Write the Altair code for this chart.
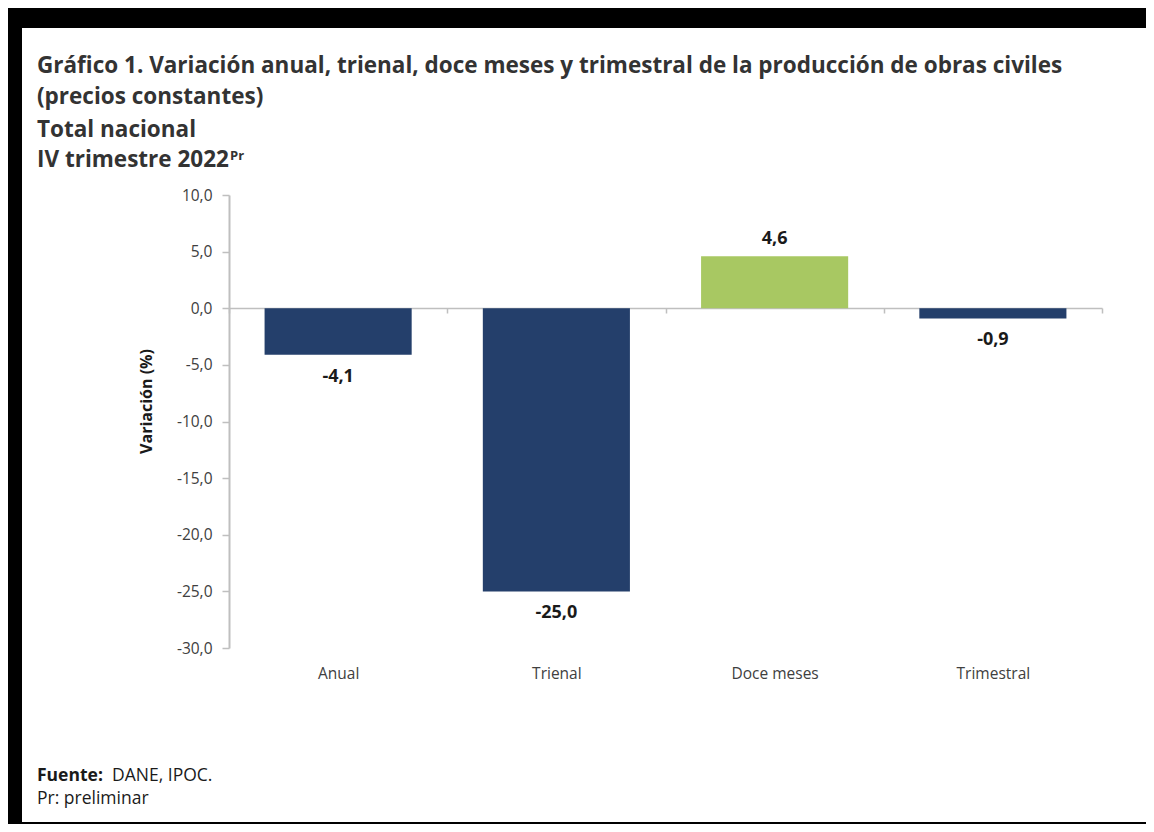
import altair as alt
import pandas as pd

categories = ["Anual", "Trienal", "Doce meses", "Trimestral"]
values = [-4.1, -25.0, 4.6, -0.9]
bar_colors = ["#243F6B", "#243F6B", "#A8C862", "#243F6B"]

title_lines = [
    "Gráfico 1. Variación anual, trienal, doce meses y trimestral de la producción de obras civiles",
    "(precios constantes)",
    "Total nacional",
    "IV trimestre 2022",
]
y_ticks = [10, 5, 0, -5, -10, -15, -20, -25, -30]

df = pd.DataFrame({"cat": categories, "val": values})
one = pd.DataFrame({"a": [0]})

FONT = "Open Sans"

x_enc = alt.X(
    "cat:N", sort=categories, title=None,
    scale=alt.Scale(domain=categories, paddingInner=0, paddingOuter=0),
    axis=alt.Axis(
        orient="bottom", offset=-340, domain=True, domainColor="#BFBFBF", domainWidth=1.5,
        ticks=True, tickBand="extent", tickSize=5, tickColor="#BFBFBF", tickWidth=1.5,
        labelPadding=353, labelAngle=0, labelFont=FONT, labelFontSize=15.5,
        labelColor="#404040", grid=False,
    ),
)
y_enc = alt.Y(
    "val:Q", title="Variación (%)",
    scale=alt.Scale(domain=[-30, 10], nice=False, zero=True),
    axis=alt.Axis(
        values=y_ticks, grid=False, domainColor="#BFBFBF", domainWidth=2,
        tickColor="#BFBFBF", tickSize=7, tickWidth=1.5, labelPadding=10,
        labelFont=FONT, labelFontSize=15.5, labelColor="#404040",
        labelExpr="replace(replace(format(datum.value, '.1f'), '.', ','), '\u2212', '-')",
        titleFont=FONT, titleFontSize=16, titleFontWeight="bold", titleColor="#1A1A1A",
        titleAngle=270, titleX=-83, titleY=206, titleAlign="center", titleBaseline="middle",
    ),
)

# black frame (top, left, bottom) drawn as thick rules
frame_top = alt.Chart(one).mark_rule(color="black", strokeWidth=20, strokeCap="butt").encode(
    x=alt.value(-221), x2=alt.value(925), y=alt.value(-177)
)
frame_left = alt.Chart(one).mark_rule(color="black", strokeWidth=14, strokeCap="butt").encode(
    x=alt.value(-214), y=alt.value(-187), y2=alt.value(640)
)
frame_bottom = alt.Chart(one).mark_rule(color="black", strokeWidth=4, strokeCap="butt").encode(
    x=alt.value(-221), x2=alt.value(925), y=alt.value(629)
)

bars = alt.Chart(df).mark_bar(width=alt.RelativeBandSize(0.674)).encode(
    x=x_enc, y=y_enc,
    color=alt.Color("cat:N", scale=alt.Scale(domain=categories, range=bar_colors), legend=None),
)

lbl_expr = "replace(replace(format(datum.val, '.1f'), '.', ','), '\u2212', '-')"
pos_labels = alt.Chart(df).transform_filter("datum.val >= 0").transform_calculate(
    lbl=lbl_expr
).mark_text(font=FONT, fontSize=18, fontWeight="bold", color="#1A1A1A", baseline="bottom", dy=-8).encode(
    x=alt.X("cat:N", sort=categories), y="val:Q", text="lbl:N"
)
neg_labels = alt.Chart(df).transform_filter("datum.val < 0").transform_calculate(
    lbl=lbl_expr
).mark_text(font=FONT, fontSize=18, fontWeight="bold", color="#1A1A1A", baseline="top", dy=13).encode(
    x=alt.X("cat:N", sort=categories), y="val:Q", text="lbl:N"
)

title_y = [-122, -91, -58, -28]
title_layers = [
    alt.Chart(one).mark_text(
        text=t, font=FONT, fontSize=22.5, fontWeight="bold", color="#333333",
        align="left", baseline="alphabetic",
    ).encode(x=alt.value(-192), y=alt.value(yy))
    for t, yy in zip(title_lines, title_y)
]
sup = alt.Chart(one).mark_text(
    text="Pr", font=FONT, fontSize=13, fontWeight="bold", color="#333333",
    align="left", baseline="alphabetic",
).encode(x=alt.value(1), y=alt.value(-35))

fuente_b = alt.Chart(one).mark_text(
    text="Fuente:", font=FONT, fontSize=17.5, fontWeight="bold", color="#1A1A1A",
    align="left", baseline="alphabetic",
).encode(x=alt.value(-192), y=alt.value(586))
fuente_r = alt.Chart(one).mark_text(
    text="DANE, IPOC.", font=FONT, fontSize=17.5, color="#1A1A1A",
    align="left", baseline="alphabetic",
).encode(x=alt.value(-117), y=alt.value(586))
prel = alt.Chart(one).mark_text(
    text="Pr: preliminar", font=FONT, fontSize=17.5, color="#1A1A1A",
    align="left", baseline="alphabetic",
).encode(x=alt.value(-192), y=alt.value(609))

chart = alt.layer(
    frame_top, frame_left, frame_bottom, bars, pos_labels, neg_labels,
    *title_layers, sup, fuente_b, fuente_r, prel
).properties(
    width=873, height=453,
    padding={"left": 221, "top": 187, "right": 44, "bottom": 176},
    autosize="none", background="white",
).configure_view(stroke=None)

chart.save("out.html", embed_options={"renderer": "svg", "actions": False})
